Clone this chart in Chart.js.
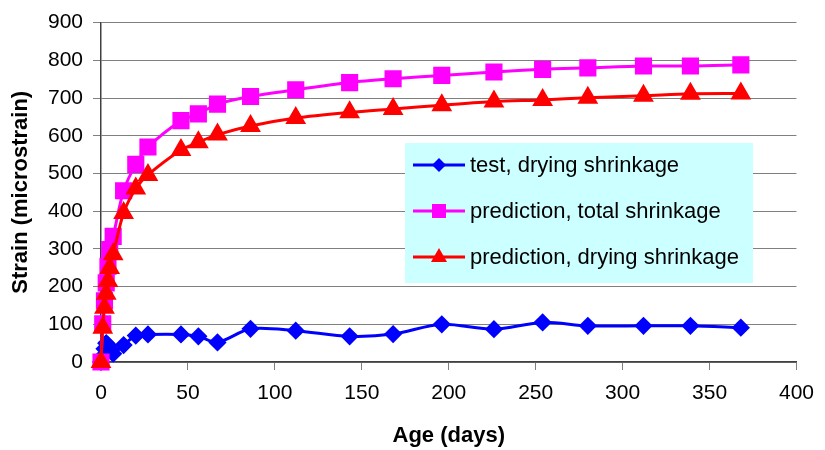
<!DOCTYPE html>
<html>
<head>
<meta charset="utf-8">
<script src="https://cdn.jsdelivr.net/npm/chart.js@4.4.1/dist/chart.umd.min.js"></script>
<style>
  body { margin: 0; background: #fff; }
  #wrap { width: 825px; height: 450px; position: relative; }
</style>
</head>
<body>
<div id="wrap"><canvas id="shrinkage"></canvas></div>
<script>
// age in days, shared by all three series
const ages = [0, 1, 2, 3, 4, 5, 7, 13, 20, 27, 46, 56, 67, 86, 112, 143, 168, 196, 226, 254, 280, 312, 339, 368];
const testDrying = [0, 15, 35, 50, 45, 35, 22, 45, 70, 73, 73, 68, 52, 88, 83, 68, 74, 100, 87, 105, 96, 96, 96, 91];
const predTotal = [0, 101, 162, 210, 254, 298, 333, 454, 524, 570, 640, 658, 684, 704, 722, 741, 751, 760, 769, 776, 780, 785, 785, 788];
const predDrying = [0, 91, 144, 181, 215, 249, 286, 395, 460, 496, 562, 583, 603, 626, 647, 662, 671, 681, 691, 695, 701, 706, 711, 712];

const xTicks = [0, 50, 100, 150, 200, 250, 300, 350, 400];
const yTicks = [0, 100, 200, 300, 400, 500, 600, 700, 800, 900];

const FONT = "'Liberation Sans', Arial, sans-serif";

function pts(vals) {
  return vals.map((v, i) => ({ x: ages[i], y: v }));
}

// draws a marker like the chart's point styles
function marker(ctx, style, x, y, color) {
  ctx.fillStyle = color;
  ctx.beginPath();
  if (style === "rectRot") {
    ctx.moveTo(x, y - 7); ctx.lineTo(x + 7, y); ctx.lineTo(x, y + 7); ctx.lineTo(x - 7, y);
  } else if (style === "rect") {
    ctx.rect(x - 7, y - 7, 14, 14);
  } else {
    ctx.moveTo(x, y - 9); ctx.lineTo(x + 8, y + 5); ctx.lineTo(x - 8, y + 5);
  }
  ctx.closePath();
  ctx.fill();
}

// legend box sitting inside the plot area
const boxLegend = {
  id: "boxLegend",
  afterDatasetsDraw(chart) {
    const ctx = chart.ctx;
    ctx.save();
    ctx.fillStyle = "#ccffff";
    ctx.fillRect(405, 143, 348, 140);
    [0, 1, 2].forEach((di, r) => {
      const ds = chart.data.datasets[di];
      const y = 165 + r * 46;
      ctx.strokeStyle = ds.borderColor;
      ctx.lineWidth = 3;
      ctx.beginPath();
      ctx.moveTo(413, y);
      ctx.lineTo(465, y);
      ctx.stroke();
      marker(ctx, ds.pointStyle, 439, y, ds.borderColor);
      ctx.fillStyle = "#000";
      ctx.font = "22px " + FONT;
      ctx.textBaseline = "middle";
      ctx.textAlign = "left";
      ctx.fillText(ds.label, 470, y + 1);
    });
    ctx.restore();
  },
};

new Chart(document.getElementById("shrinkage"), {
  type: "line",
  data: {
    datasets: [
      {
        label: "test, drying shrinkage",
        data: pts(testDrying),
        borderColor: "#0000ff",
        backgroundColor: "#0000ff",
        pointStyle: "rectRot",
        pointRadius: 7,
        borderWidth: 3,
        tension: 0.3,
        clip: false,
        order: 2,
      },
      {
        label: "prediction, total shrinkage",
        data: pts(predTotal),
        borderColor: "#ff00ff",
        backgroundColor: "#ff00ff",
        pointStyle: "rect",
        pointRadius: 10,
        borderWidth: 3,
        tension: 0.3,
        clip: false,
        order: 1,
      },
      {
        label: "prediction, drying shrinkage",
        data: pts(predDrying),
        borderColor: "#ff0000",
        backgroundColor: "#ff0000",
        pointStyle: "triangle",
        pointRadius: 9,
        borderWidth: 3,
        tension: 0.3,
        clip: false,
        order: 0,
      },
    ],
  },
  options: {
    responsive: true,
    maintainAspectRatio: false,
    animation: false,
    layout: { padding: { top: 16, right: 24, left: 0, bottom: 0 } },
    scales: {
      x: {
        type: "linear",
        min: 0,
        max: 400,
        afterBuildTicks: (s) => { s.ticks = xTicks.map((v) => ({ value: v })); },
        afterFit: (s) => { s.height = 88; },
        ticks: { color: "#000", font: { family: FONT, size: 21 }, padding: 11, maxRotation: 0 },
        grid: { drawOnChartArea: false, color: "#808080", tickLength: 8 },
        border: { color: "#404040", width: 1.5 },
        title: {
          display: true,
          text: "Age (days)",
          color: "#000",
          font: { family: FONT, size: 22, weight: "bold" },
          padding: { top: 0, bottom: 1 },
        },
      },
      y: {
        min: 0,
        max: 900,
        afterBuildTicks: (s) => { s.ticks = yTicks.map((v) => ({ value: v })); },
        afterFit: (s) => { s.width = 101; },
        ticks: { color: "#000", font: { family: FONT, size: 21 }, padding: 10 },
        grid: { color: "#808080", tickLength: 8 },
        border: { color: "#404040", width: 1.5 },
        title: {
          display: true,
          text: "Strain (microstrain)",
          color: "#000",
          font: { family: FONT, size: 22, weight: "bold" },
          padding: { top: 8, bottom: 0 },
        },
      },
    },
    plugins: {
      legend: { display: false },
      tooltip: { enabled: false },
    },
  },
  plugins: [boxLegend],
});
</script>
</body>
</html>
